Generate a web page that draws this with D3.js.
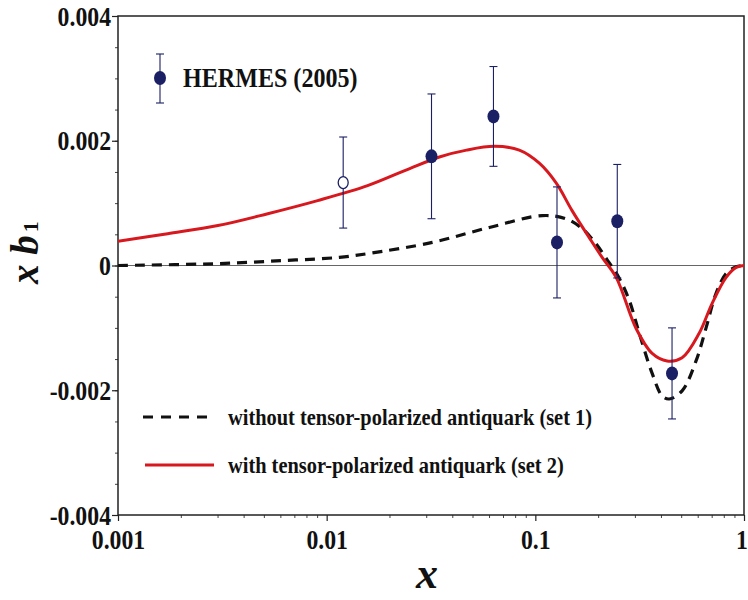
<!DOCTYPE html>
<html>
<head>
<meta charset="utf-8">
<script src="https://cdn.jsdelivr.net/npm/d3@7"></script>
<style>
  body { margin: 0; background: #fff; }
  text { font-family: "Liberation Serif", "DejaVu Serif", serif; font-weight: bold; }
</style>
</head>
<body>
<div id="chart"></div>
<script>
// HERMES (2005) data points
var hermesX   = [0.012, 0.0318, 0.063, 0.127, 0.247, 0.452];
var hermesY   = [0.00133, 0.00175, 0.00239, 0.00037, 0.00071, -0.00173];
var hermesErr = [0.00073, 0.00100, 0.00080, 0.00089, 0.00091, 0.00073];
var hermesOpen = [true, false, false, false, false, false];

// set 1: without tensor-polarized antiquark (dashed)
var set1X = [0.001, 0.00301, 0.00628, 0.0115, 0.0157, 0.0321, 0.0602, 0.108, 0.140, 0.168,
             0.195, 0.219, 0.252, 0.282, 0.315, 0.363, 0.405, 0.438, 0.505,
             0.589, 0.658, 0.734, 0.821, 0.916, 1.0];
var set1Y = [0.0, 0.00003, 0.00008, 0.00013, 0.00019, 0.00037, 0.00061, 0.00080, 0.00075, 0.00059,
             0.00035, 0.00011, -0.00020, -0.00056, -0.00109, -0.00173, -0.00209, -0.00214, -0.00201,
             -0.00153, -0.00100, -0.00045, -0.00013, -0.00002, 0.0];

// set 2: with tensor-polarized antiquark (solid red)
var set2X = [0.001, 0.00173, 0.00301, 0.00522, 0.00905, 0.0157, 0.024, 0.0347, 0.0468, 0.0637, 0.0838,
             0.1045, 0.126, 0.150, 0.181, 0.209, 0.244, 0.304, 0.363, 0.428, 0.505,
             0.609, 0.703, 0.821, 0.917, 1.0];
var set2Y = [0.00039, 0.00051, 0.00064, 0.00083, 0.00104, 0.00128, 0.00153, 0.00174, 0.00185, 0.00191, 0.00185,
             0.00164, 0.00132, 0.00088, 0.00045, 0.00013, -0.00019, -0.00101, -0.00141, -0.00153, -0.00148,
             -0.00109, -0.00061, -0.00019, -0.00003, 0.0];

var xTicks = [0.001, 0.01, 0.1, 1];
var xTickLabels = ["0.001", "0.01", "0.1", "1"];
var yTicks = [-0.004, -0.002, 0, 0.002, 0.004];
var yTickLabels = ["-0.004", "-0.002", "0", "0.002", "0.004"];

var legendLabels = ["without tensor-polarized antiquark (set 1)", "with tensor-polarized antiquark (set 2)"];

var width = 748, height = 600,
    pLeft = 118, pRight = 744, pTop = 16, pBottom = 515,
    navy = "#1b1f64", red = "#d7191f";

var svg = d3.select("#chart").append("svg")
    .attr("width", width).attr("height", height);

var x = d3.scaleLog().domain([0.001, 1]).range([pLeft, pRight]);
var y = d3.scaleLinear().domain([-0.004, 0.004]).range([pBottom, pTop]);

svg.append("clipPath").attr("id", "clip")
  .append("rect").attr("x", pLeft).attr("y", pTop)
    .attr("width", pRight - pLeft).attr("height", pBottom - pTop);

// zero line
svg.append("line")
    .attr("x1", pLeft).attr("x2", pRight)
    .attr("y1", y(0)).attr("y2", y(0))
    .attr("stroke", "#666").attr("stroke-width", 1.2);

// minor ticks
var xMinor = [];
[0.001, 0.01, 0.1].forEach(function(d) {
    for (var k = 2; k <= 9; k++) xMinor.push(d * k);
});
var yMinor = d3.range(-0.004, 0.00401, 0.0005);

svg.append("g").attr("transform", "translate(0," + pBottom + ")")
    .call(d3.axisBottom(x).tickValues(xMinor).tickSize(3).tickFormat(""))
    .call(function(g) { g.select(".domain").remove(); g.selectAll("line").attr("stroke", "#444"); });

svg.append("g").attr("transform", "translate(" + pLeft + ",0)")
    .call(d3.axisLeft(y).tickValues(yMinor).tickSize(3).tickFormat(""))
    .call(function(g) { g.select(".domain").remove(); g.selectAll("line").attr("stroke", "#444"); });

// major ticks with labels (text squeezed a little like the original)
var xAxis = svg.append("g").attr("transform", "translate(0," + pBottom + ")")
    .call(d3.axisBottom(x).tickValues(xTicks).tickSize(6).tickPadding(4)
        .tickFormat(function(d, i) { return xTickLabels[i]; }));
xAxis.select(".domain").remove();
xAxis.selectAll("line").attr("stroke", "#222").attr("stroke-width", 1.2);
xAxis.selectAll("text")
    .attr("font-family", "Liberation Serif").attr("font-size", 27).attr("fill", "#111")
    .attr("dy", "0.9em")
    .attr("transform", "scale(0.88,1)");
xAxis.selectAll(".tick").filter(function(d) { return d === 1; })
    .select("text").attr("x", -3);

var yAxis = svg.append("g").attr("transform", "translate(" + pLeft + ",0)")
    .call(d3.axisLeft(y).tickValues(yTicks).tickSize(6).tickPadding(2)
        .tickFormat(function(d, i) { return yTickLabels[i]; }));
yAxis.select(".domain").remove();
yAxis.selectAll("line").attr("stroke", "#222").attr("stroke-width", 1.2);
yAxis.selectAll("text")
    .attr("font-family", "Liberation Serif").attr("font-size", 27).attr("fill", "#111")
    .attr("dy", "0.34em")
    .attr("x", -7 / 0.88)
    .attr("transform", "scale(0.88,1)");

// frame
svg.append("rect")
    .attr("x", pLeft).attr("y", pTop)
    .attr("width", pRight - pLeft).attr("height", pBottom - pTop)
    .attr("fill", "none").attr("stroke", "#222").attr("stroke-width", 1.5);

// curves
var line = d3.line()
    .x(function(d) { return x(d[0]); })
    .y(function(d) { return y(d[1]); })
    .curve(d3.curveCatmullRom.alpha(0.5));

var curves = svg.append("g").attr("clip-path", "url(#clip)");

curves.append("path")
    .datum(d3.zip(set1X, set1Y))
    .attr("d", line)
    .attr("fill", "none").attr("stroke", "#111")
    .attr("stroke-width", 3.2).attr("stroke-dasharray", "10,7");

curves.append("path")
    .datum(d3.zip(set2X, set2Y))
    .attr("d", line)
    .attr("fill", "none").attr("stroke", red)
    .attr("stroke-width", 3);

// data points with error bars
var pts = svg.append("g").selectAll("g")
    .data(d3.range(hermesX.length))
    .join("g")
    .attr("transform", function(i) { return "translate(" + x(hermesX[i]) + ",0)"; });

pts.append("line")
    .attr("y1", function(i) { return y(hermesY[i] + hermesErr[i]); })
    .attr("y2", function(i) { return y(hermesY[i] - hermesErr[i]); })
    .attr("stroke", navy).attr("stroke-width", 1.1);
pts.append("line")
    .attr("x1", -4).attr("x2", 4)
    .attr("y1", function(i) { return y(hermesY[i] + hermesErr[i]); })
    .attr("y2", function(i) { return y(hermesY[i] + hermesErr[i]); })
    .attr("stroke", navy).attr("stroke-width", 1.1);
pts.append("line")
    .attr("x1", -4).attr("x2", 4)
    .attr("y1", function(i) { return y(hermesY[i] - hermesErr[i]); })
    .attr("y2", function(i) { return y(hermesY[i] - hermesErr[i]); })
    .attr("stroke", navy).attr("stroke-width", 1.1);
pts.append("ellipse")
    .attr("cy", function(i) { return y(hermesY[i]); })
    .attr("rx", function(i) { return hermesOpen[i] ? 5 : 6; })
    .attr("ry", function(i) { return hermesOpen[i] ? 6 : 7; })
    .attr("fill", function(i) { return hermesOpen[i] ? "#fff" : navy; })
    .attr("stroke", navy).attr("stroke-width", function(i) { return hermesOpen[i] ? 1.3 : 0; });

// HERMES legend
var hl = svg.append("g").attr("transform", "translate(160,0)");
hl.append("line").attr("y1", 54).attr("y2", 103).attr("stroke", navy).attr("stroke-width", 1.1);
hl.append("line").attr("x1", -4).attr("x2", 4).attr("y1", 54).attr("y2", 54).attr("stroke", navy).attr("stroke-width", 1.1);
hl.append("line").attr("x1", -4).attr("x2", 4).attr("y1", 103).attr("y2", 103).attr("stroke", navy).attr("stroke-width", 1.1);
hl.append("ellipse").attr("cy", 78).attr("rx", 6).attr("ry", 7).attr("fill", navy);
svg.append("text")
    .attr("transform", "translate(183,87) scale(0.86,1)")
    .attr("font-size", 28).attr("fill", "#111")
    .text("HERMES (2005)");

// curve legend
svg.append("line")
    .attr("x1", 143).attr("x2", 214).attr("y1", 417).attr("y2", 417)
    .attr("stroke", "#111").attr("stroke-width", 3.2).attr("stroke-dasharray", "10,8");
svg.append("line")
    .attr("x1", 145).attr("x2", 214).attr("y1", 465).attr("y2", 465)
    .attr("stroke", red).attr("stroke-width", 3);
svg.selectAll(".leg")
    .data(legendLabels)
    .join("text")
    .attr("class", "leg")
    .attr("transform", function(d, i) { return "translate(228," + (425 + i * 48) + ") scale(0.85,1)"; })
    .attr("font-size", 24).attr("fill", "#111")
    .text(function(d) { return d; });

// axis titles
svg.append("text")
    .attr("x", 427).attr("y", 588)
    .attr("text-anchor", "middle")
    .attr("font-size", 44).attr("font-style", "italic").attr("fill", "#111")
    .text("x");

var yl = svg.append("text")
    .attr("transform", "translate(38,284) rotate(-90)")
    .attr("font-size", 39).attr("font-style", "italic").attr("fill", "#111");
yl.append("tspan").text("x b");
yl.append("tspan").attr("font-size", 22).attr("font-style", "normal").attr("dx", 3).text("1");
</script>
</body>
</html>
